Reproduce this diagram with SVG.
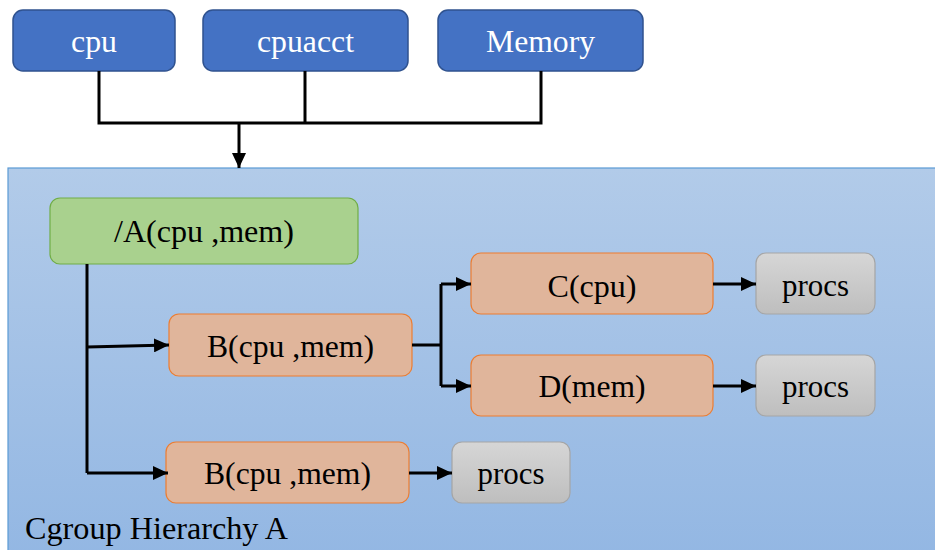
<svg xmlns="http://www.w3.org/2000/svg" width="935" height="550" viewBox="0 0 935 550">
  <style>
    .lbl { font-family: "Liberation Serif", "Times New Roman", serif; font-size: 32px; text-anchor: middle; fill: #000; }
    .top { fill: #4472C4; stroke: #2F528F; stroke-width: 1.5; }
    .top-t { fill: #fff; }
    .root { fill: #A9D18E; stroke: #70AD47; stroke-width: 1.2; }
    .grp { fill: #E0B59B; stroke: #ED7D31; stroke-width: 1.2; }
    .procs { fill: url(#gray); stroke: #A5A5A5; stroke-width: 1.2; }
    .wire { fill: none; stroke: #000; stroke-width: 3; }
    .arr { marker-end: url(#head); }
  </style>
  <defs>
    <linearGradient id="pane" x1="0" y1="0" x2="0" y2="1">
      <stop offset="0" stop-color="#B2CBE9"/>
      <stop offset="1" stop-color="#93B7E3"/>
    </linearGradient>
    <linearGradient id="gray" x1="0" y1="0" x2="0" y2="1">
      <stop offset="0" stop-color="#D6D6D6"/>
      <stop offset="1" stop-color="#BEBEBE"/>
    </linearGradient>
    <marker id="head" markerUnits="userSpaceOnUse" markerWidth="16" markerHeight="14" refX="15" refY="7" orient="auto">
      <path d="M0,0 L15,7 L0,14 Z" fill="#000"/>
    </marker>
  </defs>

  <!-- hierarchy pane -->
  <g id="hierarchy">
    <rect x="8" y="168" width="935" height="390" fill="url(#pane)" stroke="#5B9BD5" stroke-width="1.2"/>
    <text class="lbl" x="25" y="539" style="text-anchor:start" textLength="263" lengthAdjust="spacingAndGlyphs">Cgroup Hierarchy A</text>
  </g>

  <!-- subsystems -->
  <g id="cpu">
    <rect class="top" x="13" y="10" width="162" height="61" rx="10"/>
    <text class="lbl top-t" x="94" y="52" textLength="46" lengthAdjust="spacingAndGlyphs">cpu</text>
  </g>
  <g id="cpuacct">
    <rect class="top" x="203" y="10" width="205" height="61" rx="10"/>
    <text class="lbl top-t" x="305.5" y="52" textLength="97" lengthAdjust="spacingAndGlyphs">cpuacct</text>
  </g>
  <g id="memory">
    <rect class="top" x="438" y="10" width="205" height="61" rx="10"/>
    <text class="lbl top-t" x="540.5" y="52" textLength="109" lengthAdjust="spacingAndGlyphs">Memory</text>
  </g>

  <!-- cgroups -->
  <g id="root-a">
    <rect class="root" x="50" y="198" width="308" height="66" rx="10"/>
    <text class="lbl" x="204" y="242" textLength="180" lengthAdjust="spacingAndGlyphs">/A(cpu ,mem)</text>
  </g>
  <g id="b1">
    <rect class="grp" x="169" y="314" width="243" height="62" rx="10"/>
    <text class="lbl" x="290.5" y="357" textLength="167" lengthAdjust="spacingAndGlyphs">B(cpu ,mem)</text>
  </g>
  <g id="c">
    <rect class="grp" x="471" y="253" width="242" height="61" rx="10"/>
    <text class="lbl" x="592" y="297" textLength="89" lengthAdjust="spacingAndGlyphs">C(cpu)</text>
  </g>
  <g id="d">
    <rect class="grp" x="471" y="355" width="242" height="61" rx="10"/>
    <text class="lbl" x="592" y="397" textLength="107" lengthAdjust="spacingAndGlyphs">D(mem)</text>
  </g>
  <g id="b2">
    <rect class="grp" x="166" y="442" width="243" height="61" rx="10"/>
    <text class="lbl" x="287.5" y="484" textLength="167" lengthAdjust="spacingAndGlyphs">B(cpu ,mem)</text>
  </g>

  <!-- task lists -->
  <g id="procs-c">
    <rect class="procs" x="756" y="253" width="119" height="61" rx="10"/>
    <text class="lbl" x="815.5" y="296" textLength="67" lengthAdjust="spacingAndGlyphs">procs</text>
  </g>
  <g id="procs-d">
    <rect class="procs" x="756" y="355" width="119" height="61" rx="10"/>
    <text class="lbl" x="815.5" y="397" textLength="67" lengthAdjust="spacingAndGlyphs">procs</text>
  </g>
  <g id="procs-b2">
    <rect class="procs" x="452" y="442" width="118" height="61" rx="10"/>
    <text class="lbl" x="511" y="484" textLength="67" lengthAdjust="spacingAndGlyphs">procs</text>
  </g>

  <!-- connectors -->
  <g id="connectors">
    <path class="wire" d="M99,71 V123 H541 V71"/>
    <path class="wire" d="M305,71 V123"/>
    <path class="wire arr" d="M239,123 V168"/>
    <path class="wire" d="M87,264 V473"/>
    <path class="wire arr" d="M87,473 H168"/>
    <path class="wire arr" d="M87,347 L169,345"/>
    <path class="wire" d="M412,345 H441"/>
    <path class="wire" d="M441,284 V386"/>
    <path class="wire arr" d="M441,284 H471"/>
    <path class="wire arr" d="M441,386 H471"/>
    <path class="wire arr" d="M713,284 H756"/>
    <path class="wire arr" d="M713,386 H756"/>
    <path class="wire arr" d="M409,473 H452"/>
  </g>
</svg>
